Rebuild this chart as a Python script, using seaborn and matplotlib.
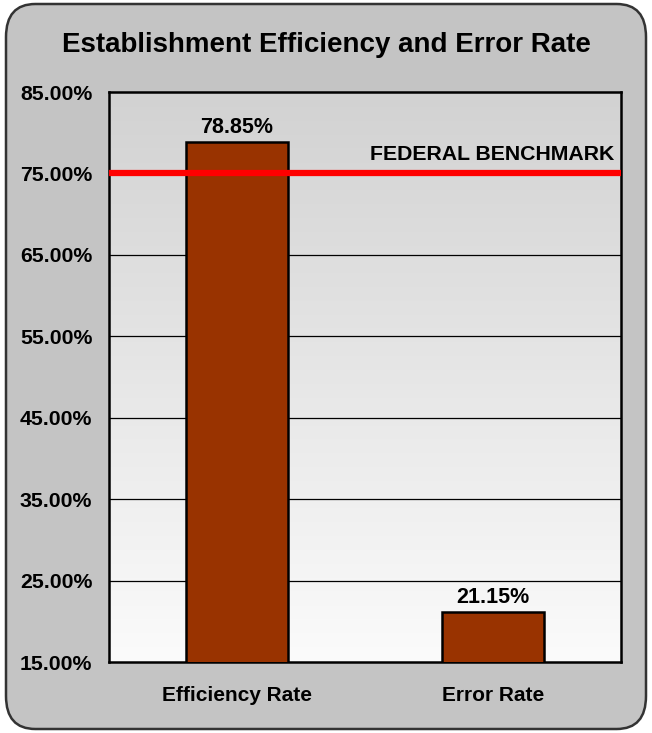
import numpy as np
import pandas as pd
import matplotlib
matplotlib.use("Agg")
import matplotlib.pyplot as plt
import seaborn as sns
from matplotlib.patches import FancyBboxPatch
from matplotlib.ticker import FuncFormatter

categories = ["Efficiency Rate", "Error Rate"]
values = [78.85, 21.15]
bar_labels = ["78.85%", "21.15%"]
benchmark = 75.0
benchmark_label = "FEDERAL BENCHMARK"
yticks = [15, 25, 35, 45, 55, 65, 75, 85]
title = "Establishment Efficiency and Error Rate"

sns.set_theme(style="white")
plt.rcParams['font.family'] = ['Liberation Sans', 'DejaVu Sans']

W, H = 652, 733
fig = plt.figure(figsize=(W / 100, H / 100), dpi=100)
fig.patch.set_facecolor("white")

# rounded panel
panel = FancyBboxPatch((6 / W, 4 / H), (W - 12) / W, (H - 8) / H,
                       boxstyle="round,pad=0,rounding_size=0.045",
                       transform=fig.transFigure, facecolor="#c4c4c4",
                       edgecolor="#333333", linewidth=1.8, zorder=-10)
fig.patches.append(panel)

ax = fig.add_axes([109 / W, 1 - 662 / H, (621 - 109) / W, (662 - 92) / H])
ax.set_zorder(5)
ax.set_facecolor("none")

df = pd.DataFrame({"cat": categories, "val": values})
sns.barplot(data=df, x="cat", y="val", color="#993300", width=0.4,
            edgecolor="black", linewidth=1.8, saturation=1, ax=ax, zorder=3)

# gradient background of plot area
grad = np.linspace(0, 1, 256).reshape(-1, 1)
ax.imshow(grad, extent=[-0.5, 1.5, 15, 85], aspect="auto", origin="lower",
          cmap=matplotlib.colors.LinearSegmentedColormap.from_list(
              "g", ["#fbfbfb", "#d2d2d2"]), zorder=0)
ax.set_xlim(-0.5, 1.5)
ax.set_ylim(15, 85)

ax.set_yticks(yticks)
ax.yaxis.set_major_formatter(FuncFormatter(lambda v, p: f"{v:.2f}%"))
for y in yticks[1:-1]:
    ax.axhline(y, color="black", linewidth=0.9, zorder=1)

ax.axhline(benchmark, color="#ff0000", linewidth=4.5, zorder=4)
ax.text(1.475, benchmark + 1.2, benchmark_label, ha="right", va="bottom",
        fontsize=15.3, fontweight="bold", color="black", zorder=5)

for i, (v, lab) in enumerate(zip(values, bar_labels)):
    ax.text(i, v + 0.5, lab, ha="center", va="bottom", fontsize=15.5,
            fontweight="bold", color="black", zorder=5)

ax.set_xlabel("")
ax.set_ylabel("")
ax.tick_params(axis="y", labelsize=15.3, pad=12, length=0)
ax.tick_params(axis="x", labelsize=15, pad=17, length=0)
for lab in ax.get_yticklabels() + ax.get_xticklabels():
    lab.set_fontweight("bold")
    lab.set_color("black")
for s in ax.spines.values():
    s.set_visible(True)
    s.set_color("black")
    s.set_linewidth(1.8)

fig.text(0.5, 1 - 45 / H, title, ha="center", va="center",
         fontsize=20, fontweight="bold", color="black")

fig.savefig("out.png", dpi=100)
